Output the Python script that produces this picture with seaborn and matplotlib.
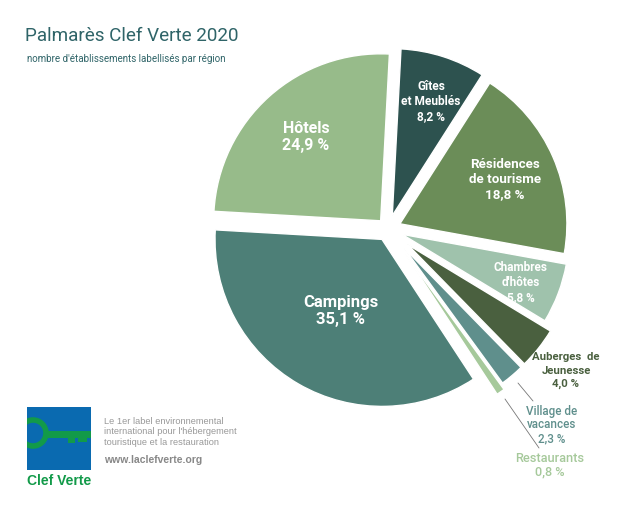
import numpy as np
import matplotlib.pyplot as plt
from matplotlib.patches import Rectangle, Circle, Polygon
import seaborn as sb

# share of labelled places by type
categories = ["Gîtes", "Résidences", "Chambres", "Auberges", "Village", "Restaurants", "Campings", "Hôtels"]
shares = [8.2, 18.8, 5.8, 4.0, 2.3, 0.8, 35.1, 24.9]
colors = ["#2d524f", "#6b8d58", "#9fc2ac", "#4a603f", "#5f8f8c", "#a6c99b", "#4d7f77", "#97bb8a"]
# slice offsets, in pixels since the pie is drawn in pixel units
explode = [14, 13, 15, 25, 25, 31, 12, 11]

sb.set_theme(style="white")
plt.rcParams['font.family'] = ['Roboto', 'DejaVu Sans']

fig = plt.figure(figsize=(6.4, 5.12), dpi=100)
ax = fig.add_axes([0, 0, 1, 1])
ax.pie(shares, colors=colors, explode=explode, startangle=87, counterclock=False,
       radius=167, center=(388, 512 - 229), frame=True)
ax.set_xlim(0, 640)
ax.set_ylim(0, 512)
ax.set_aspect('equal')
ax.axis('off')


# one text per line, line heights in the labels are too uneven otherwise
def txt(x, y, step, lines, color, size=10, weight='bold'):
    for i, s in enumerate(lines):
        ax.text(x, 512 - (y + i * step), s, color=color, fontsize=size, fontweight=weight,
                ha='center', va='center_baseline')


ax.text(25, 512 - 36, "Palmarès Clef Verte 2020", color="#2f6468", fontsize=13.6, va='center')
ax.text(27, 512 - 59, "nombre d'établissements labellisés par région", color="#2f6468", fontsize=7, va='center')

txt(306, 127, 17, ["Hôtels", "24,9 %"], "white", 11.5)
txt(431, 85, 15, ["Gîtes", "et Meublés", "8,2 %"], "white", 8.6)
txt(505, 163, 15, ["Résidences", "de tourisme", "18,8 %"], "white", 9.6)
txt(521, 266, 15, ["Chambres", "d'hôtes", "5,8 %"], "white", 8.5)
txt(341, 301, 17, ["Campings", "35,1 %"], "white", 12)
txt(566, 356, 13.5, ["Auberges  de", "Jeunesse", "4,0 %"], "#4a603f", 8.2)
txt(552, 410, 13.5, ["Village de", "vacances", "2,3 %"], "#5f8f8c", 8.4, 'medium')
txt(550, 457, 13, ["Restaurants", "0,8 %"], "#a6c99b", 9.2, 'medium')

# leader lines
ax.plot([518, 533], [512 - 383, 512 - 401], color="#777777", lw=0.6)
ax.plot([505, 539], [512 - 399, 512 - 448], color="#777777", lw=0.6)

# logo
logo = Rectangle((27, 512 - 470), 64, 63, color="#0a6ab0", lw=0)
ax.add_patch(logo)
ring = Circle((33, 512 - 433), 13, fc="none", ec="#129a49", lw=4)
ax.add_patch(ring)
ring.set_clip_path(logo)
ax.add_patch(Polygon([(45, 512 - 431), (91, 512 - 431), (91, 512 - 438), (87, 512 - 438), (87, 512 - 442),
                      (78, 512 - 442), (78, 512 - 438), (75, 512 - 438), (75, 512 - 443), (68, 512 - 443),
                      (68, 512 - 438), (45, 512 - 438)], color="#129a49", lw=0))
ax.text(59, 512 - 481, "Clef Verte", color="#129a49", fontsize=10, fontweight='bold',
        family='Liberation Sans', ha='center', va='center')
ax.text(104, 512 - 432, "Le 1er label environnemental\ninternational pour l'hébergement\ntouristique et la restauration",
        color="#999999", fontsize=6.7, family='Liberation Sans', va='center', linespacing=1.25)
ax.text(104, 512 - 460, "www.laclefverte.org", color="#888888", fontsize=7.5, fontweight='bold',
        family='Liberation Sans', va='center')

fig.savefig("out.png", dpi=100)
